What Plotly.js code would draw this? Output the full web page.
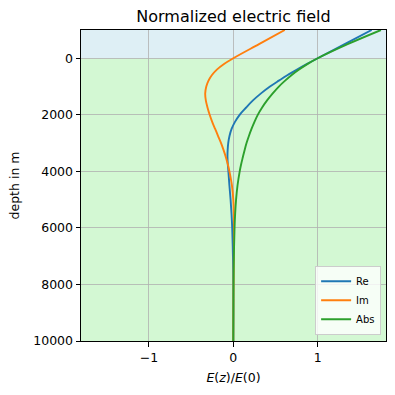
<!DOCTYPE html>
<html>
<head>
<meta charset="utf-8">
<script src="https://cdn.plot.ly/plotly-3.0.1.min.js"></script>
<style>html,body{margin:0;padding:0;background:#fff;}#chart{width:395px;height:395px;}</style>
</head>
<body>
<div id="chart"></div>
<script>
// depth in m (negative = air)
const depth = [-1000, -500, 0, 200, 400, 600, 800, 1000, 1250, 1500, 1750, 2000, 2250, 2500, 2750, 3000, 3250, 3500, 3750, 4000, 4500, 5000, 5500, 6000, 7000, 8000, 9000, 10000];
const reE  = [1.64, 1.32, 1.00, 0.875, 0.755, 0.64, 0.535, 0.435, 0.325, 0.23, 0.15, 0.075, 0.02, -0.02, -0.045, -0.06, -0.067, -0.069, -0.065, -0.058, -0.046, -0.032, -0.021, -0.013, -0.004, 0.0, 0.001, 0.0];
const imE  = [0.61, 0.305, 0.0, -0.11, -0.195, -0.255, -0.295, -0.32, -0.333, -0.325, -0.305, -0.28, -0.25, -0.215, -0.18, -0.145, -0.115, -0.088, -0.065, -0.046, -0.016, 0.0, 0.006, 0.008, 0.006, 0.003, 0.001, 0.0];
const absE = [1.75, 1.355, 1.00, 0.882, 0.78, 0.689, 0.611, 0.54, 0.465, 0.398, 0.34, 0.29, 0.251, 0.216, 0.185, 0.157, 0.134, 0.113, 0.093, 0.076, 0.05, 0.033, 0.022, 0.015, 0.007, 0.003, 0.0014, 0.0];
const seriesNames = ['Re', 'Im', 'Abs'];
const seriesColors = ['#1f77b4', '#ff7f0e', '#2ca02c'];
const yTicks = [0, 2000, 4000, 6000, 8000, 10000];
const xTicks = [-1, 0, 1];

const font = 'DejaVu Sans, sans-serif';
const traces = [reE, imE, absE].map((v, i) => ({
  x: v, y: depth, type: 'scatter', mode: 'lines', name: seriesNames[i],
  line: {color: seriesColors[i], width: 1.9, shape: 'spline', smoothing: 1}
}));

const layout = {
  width: 395, height: 395,
  margin: {l: 81, r: 9, t: 30, b: 54},
  paper_bgcolor: '#ffffff', plot_bgcolor: '#ffffff',
  font: {family: font, color: '#000', size: 12.5},
  title: {text: 'Normalized electric field', font: {family: font, size: 16, color: '#000'},
          xref: 'paper', x: 0.5, xanchor: 'center', yref: 'container', y: 1 - 16/395, yanchor: 'middle'},
  xaxis: {range: [-1.805, 1.81], tickvals: xTicks, ticks: 'outside', ticklen: 4.5, tickcolor: '#000',
          showgrid: true, gridcolor: '#b0b0b0', gridwidth: 0.8, zeroline: false,
          showline: true, mirror: true, linecolor: '#000', linewidth: 1,
          tickfont: {size: 12.5, family: font},
          title: {text: '<i>E</i>(<i>z</i>)/<i>E</i>(0)', font: {size: 12.5, family: font}, standoff: 9}},
  yaxis: {range: [10000, -1000], tickvals: yTicks, tickformat: 'd', ticks: 'outside', ticklen: 4.5, tickcolor: '#000',
          showgrid: true, gridcolor: '#b0b0b0', gridwidth: 0.8, zeroline: false,
          showline: true, mirror: true, linecolor: '#000', linewidth: 1,
          tickfont: {size: 12.5, family: font},
          title: {text: 'depth in m', font: {size: 12.5, family: font}, standoff: 10}},
  shapes: [
    {type: 'rect', xref: 'paper', yref: 'y', x0: 0, x1: 1, y0: -1000, y1: 0, fillcolor: '#deeff5', line: {width: 0}, layer: 'below'},
    {type: 'rect', xref: 'paper', yref: 'y', x0: 0, x1: 1, y0: 0, y1: 10000, fillcolor: '#d3f8d3', line: {width: 0}, layer: 'below'}
  ],
  legend: {x: 0.984, y: 0.02, xanchor: 'right', yanchor: 'bottom', bgcolor: 'rgba(255,255,255,0.8)',
           bordercolor: '#cccccc', borderwidth: 1, font: {size: 10, family: font}, tracegroupgap: 0},
  showlegend: true
};

Plotly.newPlot('chart', traces, layout, {displayModeBar: false, staticPlot: true});
</script>
</body>
</html>
